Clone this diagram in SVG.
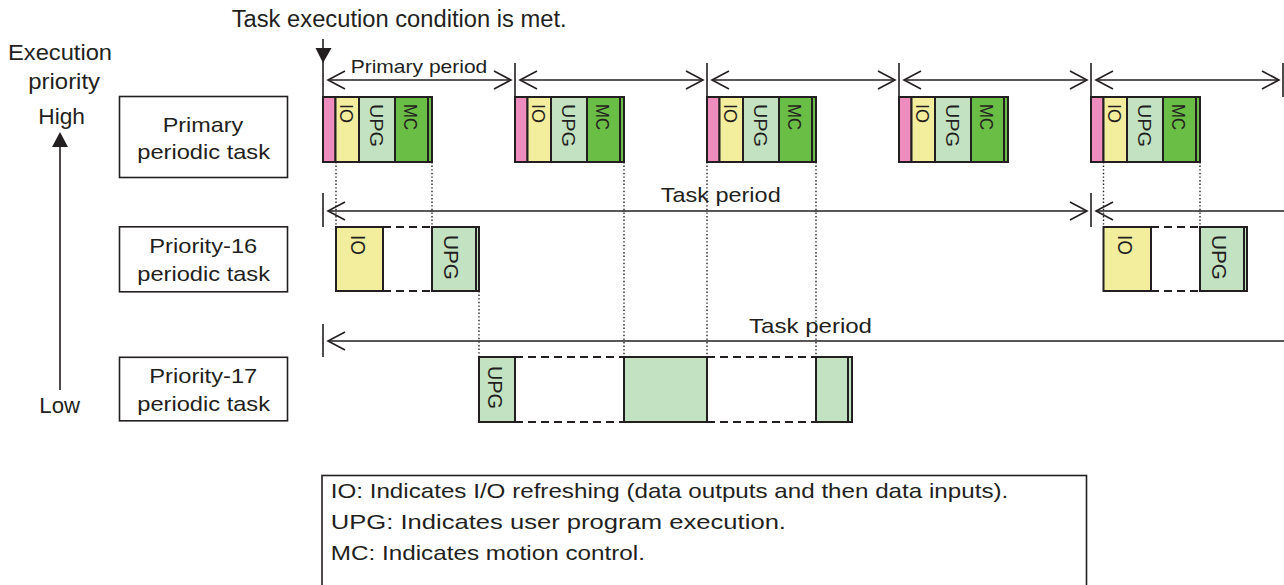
<svg xmlns="http://www.w3.org/2000/svg" width="1284" height="585" viewBox="0 0 1284 585">
<style>
text{font-family:"Liberation Sans",Arial,sans-serif;fill:#231f20}
.box{fill:#fff;stroke:#231f20;stroke-width:1.6}
.blk{stroke:#231f20;stroke-width:2}
.pk{fill:#ee8dbd}.yl{fill:#f2ee9e}.lg{fill:#c3e2c1}.dg{fill:#6abd45}
.ln{stroke:#231f20;stroke-width:1.6;fill:none}
.dot{stroke:#231f20;stroke-width:1.4;stroke-dasharray:1.4 2.2;fill:none}
.dash{stroke:#231f20;stroke-width:2;stroke-dasharray:8 5;fill:none}
.arr{stroke:#231f20;stroke-width:1.6;fill:none;marker-start:url(#ah);marker-end:url(#ah)}
.arrs{stroke:#231f20;stroke-width:1.6;fill:none;marker-start:url(#ah)}
.lbl{font-size:18.5px}
.lbl2{font-size:20px}
</style>
<defs>
<marker id="ah" viewBox="-20 -11 22 22" refX="0" refY="0" markerWidth="22" markerHeight="22" markerUnits="userSpaceOnUse" orient="auto-start-reverse">
<path d="M-17,-9 L0,0 L-17,9" fill="none" stroke="#231f20" stroke-width="1.6"/>
</marker>
</defs>

<text x="231.7" y="26.5" font-size="23" textLength="335" lengthAdjust="spacingAndGlyphs">Task execution condition is met.</text>

<g id="priority-axis">
<text x="8" y="60" font-size="22" textLength="104" lengthAdjust="spacingAndGlyphs">Execution</text>
<text x="28.3" y="89" font-size="22" textLength="71.7" lengthAdjust="spacingAndGlyphs">priority</text>
<text x="38.3" y="124" font-size="22" textLength="46.7" lengthAdjust="spacingAndGlyphs">High</text>
<text x="39.3" y="413" font-size="22" textLength="40.7" lengthAdjust="spacingAndGlyphs">Low</text>
<line class="ln" x1="60" y1="146" x2="60" y2="390"/>
<polygon points="52,147 68,147 60,132" fill="#231f20"/>
</g>

<g id="primary-task">
<rect class="box" x="119.5" y="96.5" width="168" height="81"/>
<text x="162.7" y="131.7" font-size="21" textLength="80.6" lengthAdjust="spacingAndGlyphs">Primary</text>
<text x="137.3" y="159.3" font-size="21" textLength="132.7" lengthAdjust="spacingAndGlyphs">periodic task</text>
</g>
<g id="priority16-task">
<rect class="box" x="119.5" y="226.8" width="168" height="65"/>
<text x="149.3" y="252.7" font-size="21" textLength="108" lengthAdjust="spacingAndGlyphs">Priority-16</text>
<text x="137.3" y="280.7" font-size="21" textLength="132.7" lengthAdjust="spacingAndGlyphs">periodic task</text>
</g>
<g id="priority17-task">
<rect class="box" x="119.5" y="357.3" width="168" height="63.5"/>
<text x="149.3" y="382.7" font-size="21" textLength="108" lengthAdjust="spacingAndGlyphs">Priority-17</text>
<text x="137.3" y="411" font-size="21" textLength="132.7" lengthAdjust="spacingAndGlyphs">periodic task</text>
</g>

<g id="connectors">
<line class="ln" x1="323" y1="39" x2="323" y2="97"/>
<polygon points="315.5,48 331.5,48 323,63" fill="#231f20"/>
<line class="ln" x1="515" y1="63" x2="515" y2="97"/>
<line class="ln" x1="707" y1="63" x2="707" y2="97"/>
<line class="ln" x1="899" y1="63" x2="899" y2="97"/>
<line class="ln" x1="1091" y1="63" x2="1091" y2="97"/>
<line class="ln" x1="1283" y1="63" x2="1283" y2="97"/>
<line class="arr" x1="328" y1="80" x2="511" y2="80"/>
<line class="arr" x1="520" y1="80" x2="703" y2="80"/>
<line class="arr" x1="712" y1="80" x2="895" y2="80"/>
<line class="arr" x1="904" y1="80" x2="1087" y2="80"/>
<line class="arr" x1="1096" y1="80" x2="1279" y2="80"/>
<text x="350.7" y="73.3" font-size="19" textLength="136.6" lengthAdjust="spacingAndGlyphs">Primary period</text>
<line class="ln" x1="323" y1="193" x2="323" y2="227"/>
<line class="ln" x1="1091" y1="193" x2="1091" y2="227"/>
<line class="arr" x1="328" y1="211" x2="1087" y2="211"/>
<line class="arrs" x1="1096" y1="211" x2="1290" y2="211"/>
<text x="660.7" y="202" font-size="21" textLength="120" lengthAdjust="spacingAndGlyphs">Task period</text>
<line class="ln" x1="323" y1="324" x2="323" y2="357"/>
<line class="arrs" x1="328" y1="341" x2="1290" y2="341"/>
<text x="749" y="332.5" font-size="21" textLength="123" lengthAdjust="spacingAndGlyphs">Task period</text>
<line class="dot" x1="336" y1="162" x2="336" y2="227"/>
<line class="dot" x1="432" y1="162" x2="432" y2="227"/>
<line class="dot" x1="479" y1="291" x2="479" y2="357"/>
<line class="dot" x1="624" y1="162" x2="624" y2="357"/>
<line class="dot" x1="707" y1="162" x2="707" y2="357"/>
<line class="dot" x1="816" y1="162" x2="816" y2="357"/>
<line class="dot" x1="1103.5" y1="162" x2="1103.5" y2="227"/>
<line class="dot" x1="1200" y1="162" x2="1200" y2="227"/>
<line class="dash" x1="383" y1="227" x2="432" y2="227"/>
<line class="dash" x1="383" y1="291" x2="432" y2="291"/>
<line class="dash" x1="1151" y1="227" x2="1200" y2="227"/>
<line class="dash" x1="1151" y1="291" x2="1200" y2="291"/>
<line class="dash" x1="515" y1="357" x2="624" y2="357"/>
<line class="dash" x1="515" y1="422" x2="624" y2="422"/>
<line class="dash" x1="707" y1="357" x2="816" y2="357"/>
<line class="dash" x1="707" y1="422" x2="816" y2="422"/>
</g>

<g id="primary-block-1" transform="translate(323,0)">
<rect class="blk pk" x="0" y="97" width="12.5" height="65"/>
<rect class="blk yl" x="12.5" y="97" width="23.5" height="65"/>
<rect class="blk lg" x="36" y="97" width="36" height="65"/>
<rect class="blk dg" x="72" y="97" width="33" height="65"/>
<rect class="blk dg" x="105" y="97" width="4" height="65"/>
<text class="lbl" transform="translate(16.5,104) rotate(90)" textLength="19" lengthAdjust="spacingAndGlyphs">IO</text>
<text class="lbl" transform="translate(46.5,104) rotate(90)" textLength="43" lengthAdjust="spacingAndGlyphs">UPG</text>
<text class="lbl" transform="translate(81,104) rotate(90)" textLength="26" lengthAdjust="spacingAndGlyphs">MC</text>
</g>
<g id="primary-block-2" transform="translate(515,0)">
<rect class="blk pk" x="0" y="97" width="12.5" height="65"/>
<rect class="blk yl" x="12.5" y="97" width="23.5" height="65"/>
<rect class="blk lg" x="36" y="97" width="36" height="65"/>
<rect class="blk dg" x="72" y="97" width="33" height="65"/>
<rect class="blk dg" x="105" y="97" width="4" height="65"/>
<text class="lbl" transform="translate(16.5,104) rotate(90)" textLength="19" lengthAdjust="spacingAndGlyphs">IO</text>
<text class="lbl" transform="translate(46.5,104) rotate(90)" textLength="43" lengthAdjust="spacingAndGlyphs">UPG</text>
<text class="lbl" transform="translate(81,104) rotate(90)" textLength="26" lengthAdjust="spacingAndGlyphs">MC</text>
</g>
<g id="primary-block-3" transform="translate(707,0)">
<rect class="blk pk" x="0" y="97" width="12.5" height="65"/>
<rect class="blk yl" x="12.5" y="97" width="23.5" height="65"/>
<rect class="blk lg" x="36" y="97" width="36" height="65"/>
<rect class="blk dg" x="72" y="97" width="33" height="65"/>
<rect class="blk dg" x="105" y="97" width="4" height="65"/>
<text class="lbl" transform="translate(16.5,104) rotate(90)" textLength="19" lengthAdjust="spacingAndGlyphs">IO</text>
<text class="lbl" transform="translate(46.5,104) rotate(90)" textLength="43" lengthAdjust="spacingAndGlyphs">UPG</text>
<text class="lbl" transform="translate(81,104) rotate(90)" textLength="26" lengthAdjust="spacingAndGlyphs">MC</text>
</g>
<g id="primary-block-4" transform="translate(899,0)">
<rect class="blk pk" x="0" y="97" width="12.5" height="65"/>
<rect class="blk yl" x="12.5" y="97" width="23.5" height="65"/>
<rect class="blk lg" x="36" y="97" width="36" height="65"/>
<rect class="blk dg" x="72" y="97" width="33" height="65"/>
<rect class="blk dg" x="105" y="97" width="4" height="65"/>
<text class="lbl" transform="translate(16.5,104) rotate(90)" textLength="19" lengthAdjust="spacingAndGlyphs">IO</text>
<text class="lbl" transform="translate(46.5,104) rotate(90)" textLength="43" lengthAdjust="spacingAndGlyphs">UPG</text>
<text class="lbl" transform="translate(81,104) rotate(90)" textLength="26" lengthAdjust="spacingAndGlyphs">MC</text>
</g>
<g id="primary-block-5" transform="translate(1091,0)">
<rect class="blk pk" x="0" y="97" width="12.5" height="65"/>
<rect class="blk yl" x="12.5" y="97" width="23.5" height="65"/>
<rect class="blk lg" x="36" y="97" width="36" height="65"/>
<rect class="blk dg" x="72" y="97" width="33" height="65"/>
<rect class="blk dg" x="105" y="97" width="4" height="65"/>
<text class="lbl" transform="translate(16.5,104) rotate(90)" textLength="19" lengthAdjust="spacingAndGlyphs">IO</text>
<text class="lbl" transform="translate(46.5,104) rotate(90)" textLength="43" lengthAdjust="spacingAndGlyphs">UPG</text>
<text class="lbl" transform="translate(81,104) rotate(90)" textLength="26" lengthAdjust="spacingAndGlyphs">MC</text>
</g>

<g id="p16-block-1">
<rect class="blk yl" x="336" y="227" width="47" height="64"/>
<text class="lbl2" transform="translate(351,235) rotate(90)" textLength="20" lengthAdjust="spacingAndGlyphs">IO</text>
<rect class="blk lg" x="432" y="227" width="47" height="64"/>
<line class="blk" x1="476" y1="227" x2="476" y2="291"/>
<text class="lbl2" transform="translate(444,235) rotate(90)" textLength="45" lengthAdjust="spacingAndGlyphs">UPG</text>
</g>
<g id="p16-block-2">
<rect class="blk yl" x="1103.5" y="227" width="47.5" height="64"/>
<text class="lbl2" transform="translate(1118,235) rotate(90)" textLength="20" lengthAdjust="spacingAndGlyphs">IO</text>
<rect class="blk lg" x="1200" y="227" width="47" height="64"/>
<line class="blk" x1="1244" y1="227" x2="1244" y2="291"/>
<text class="lbl2" transform="translate(1212,235) rotate(90)" textLength="45" lengthAdjust="spacingAndGlyphs">UPG</text>
</g>

<g id="p17-block-1">
<rect class="blk lg" x="479" y="357" width="36" height="65"/>
<text class="lbl2" transform="translate(488,366) rotate(90)" textLength="43" lengthAdjust="spacingAndGlyphs">UPG</text>
</g>
<g id="p17-block-2">
<rect class="blk lg" x="624" y="357" width="83" height="65"/>
</g>
<g id="p17-block-3">
<rect class="blk lg" x="816" y="357" width="36" height="65"/>
<line class="blk" x1="848" y1="357" x2="848" y2="422"/>
</g>

<g id="legend">
<rect class="box" x="322" y="475.5" width="764.5" height="130"/>
<text x="330.7" y="498.3" font-size="21" textLength="677.6" lengthAdjust="spacingAndGlyphs">IO: Indicates I/O refreshing (data outputs and then data inputs).</text>
<text x="330.7" y="529.3" font-size="21" textLength="455.3" lengthAdjust="spacingAndGlyphs">UPG: Indicates user program execution.</text>
<text x="330.7" y="560.3" font-size="21" textLength="314.3" lengthAdjust="spacingAndGlyphs">MC: Indicates motion control.</text>
</g>
</svg>
